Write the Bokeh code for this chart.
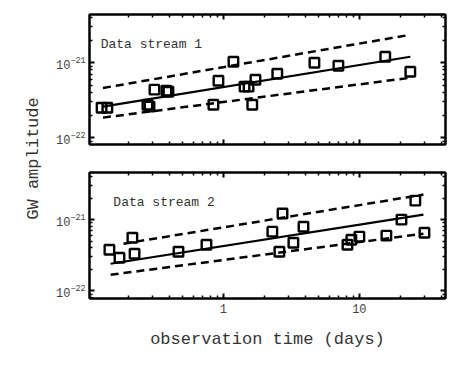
import math
from bokeh.plotting import figure
from bokeh.models import (LogAxis, Label, FixedTicker, BasicTickFormatter,
                          LogTickFormatter, CustomJSTickFormatter)
from bokeh.layouts import row, column
from bokeh.embed import file_html
from bokeh.resources import INLINE

# ---------------- data ----------------
s1_time = [0.127, 0.140, 0.276, 0.286, 0.311, 0.381, 0.394, 0.844, 0.919, 1.185,
           1.43, 1.53, 1.63, 1.72, 2.49, 4.67, 7.01, 15.5, 23.7]
s1_amp = [2.51e-22, 2.51e-22, 2.75e-22, 2.59e-22, 4.37e-22, 4.24e-22, 4.10e-22, 2.75e-22,
          5.75e-22, 1.03e-21, 4.79e-22, 4.79e-22, 2.75e-22, 5.93e-22, 7.13e-22, 1.0e-21,
          9.12e-22, 1.2e-21, 7.59e-22]
s1_fit_time = [0.13, 23.7]
s1_fit_mid = [2.6e-22, 1.2e-21]
s1_fit_hi = [4.6e-22, 2.36e-21]
s1_fit_lo = [1.85e-22, 6.3e-22]

s2_time = [0.145, 0.172, 0.214, 0.222, 0.467, 0.75, 2.29, 2.58, 2.72, 3.27, 3.88,
           8.17, 8.73, 10.0, 15.8, 20.4, 25.8, 30.1]
s2_amp = [3.78e-22, 2.92e-22, 5.57e-22, 3.32e-22, 3.54e-22, 4.45e-22, 6.78e-22, 3.54e-22,
          1.22e-21, 4.74e-22, 7.96e-22, 4.45e-22, 5.22e-22, 5.77e-22, 5.96e-22, 1.0e-21,
          1.85e-21, 6.56e-22]
s2_fit_time = [0.148, 29.6]
s2_fit_mid = [2.4e-22, 1.18e-21]
s2_hi_time = [0.184, 29.6]
s2_fit_hi = [4.59e-22, 2.25e-21]
s2_fit_lo = [1.68e-22, 6.35e-22]

x_major = [1, 10]
x_labels = {1: "1", 10: "10"}
y_major = [1e-22, 1e-21]

FONT = "Liberation Mono"
XR = (0.1035, 43.0)


def minor_ticks(lo_exp, hi_exp):
    out = []
    for e in range(lo_exp, hi_exp + 1):
        for m in range(2, 10):
            out.append(m * 10.0 ** e)
    return out


def style_axis(ax, show_labels, standoff=4):
    ax.axis_line_width = 2
    ax.axis_line_color = "black"
    ax.major_tick_in = 5
    ax.major_tick_out = 0
    ax.minor_tick_in = 3
    ax.minor_tick_out = 0
    ax.major_tick_line_width = 2
    ax.minor_tick_line_width = 1.5
    ax.major_tick_line_color = "black"
    ax.minor_tick_line_color = "black"
    ax.major_label_text_font = FONT
    ax.major_label_text_color = "#444444"
    ax.major_label_text_font_size = "12px"
    ax.major_label_standoff = standoff if show_labels else 0
    if not show_labels:
        ax.formatter = CustomJSTickFormatter(code="return ''")
        ax.major_label_overrides = {}
    ax.axis_label_text_font = FONT
    ax.axis_label_text_font_style = "normal"
    ax.axis_label_text_color = "#333333"


def panel(xs, ys, fx_mid, mid, fx_hi, hi, fx_lo, lo, yr, fh, text, tx, top_b, bot_b, bottom_labels):
    p = figure(x_axis_type="log", y_axis_type="log", x_range=XR, y_range=yr,
               frame_width=356, frame_height=fh, output_backend="svg",
               toolbar_location=None, min_border_left=41, min_border_right=5,
               min_border_top=top_b, min_border_bottom=bot_b)
    p.xgrid.visible = False
    p.ygrid.visible = False
    p.outline_line_color = "black"
    p.outline_line_width = 2
    p.background_fill_color = "white"

    xt = FixedTicker(ticks=x_major, minor_ticks=minor_ticks(-1, 1))
    yt = FixedTicker(ticks=y_major, minor_ticks=minor_ticks(-23, -21))

    bx = p.below[0]
    bx.ticker = xt
    bx.formatter = BasicTickFormatter()
    bx.major_label_overrides = x_labels
    style_axis(bx, bottom_labels, 5)
    ly = p.left[0]
    ly.ticker = yt
    ly.formatter = LogTickFormatter()
    style_axis(ly, True, 4)

    top = LogAxis(ticker=xt)
    style_axis(top, False)
    p.add_layout(top, "above")
    right = LogAxis(ticker=yt)
    style_axis(right, False)
    p.add_layout(right, "right")

    p.line(fx_mid, mid, line_color="black", line_width=2.2)
    p.line(fx_hi, hi, line_color="black", line_width=2.5, line_dash="8 5")
    p.line(fx_lo, lo, line_color="black", line_width=2.5, line_dash="8 5")
    p.scatter(xs, ys, marker="square", size=9.5, fill_alpha=0,
              line_color="black", line_width=2.4)

    p.add_layout(Label(x=tx, y=1.74e-21, text=text,
                       text_font=FONT, text_font_size="13px",
                       text_baseline="middle", text_color="#333333"))
    return p


p1 = panel(s1_time, s1_amp, s1_fit_time, s1_fit_mid, s1_fit_time, s1_fit_hi,
           s1_fit_time, s1_fit_lo, (8.1e-23, 4.4e-21), 130, "Data stream 1", 0.125,
           14, 14, False)
p2 = panel(s2_time, s2_amp, s2_fit_time, s2_fit_mid, s2_hi_time, s2_fit_hi,
           s2_fit_time, s2_fit_lo, (7.8e-23, 4.6e-21), 126, "Data stream 2", 0.155,
           14, 60, True)
p2.below[0].axis_label = "observation time (days)"
p2.below[0].axis_label_text_font_size = "17px"
p2.below[0].axis_label_standoff = 14

H = 158 + 200
lab = figure(width=48, height=H, x_range=(0, 48), y_range=(0, H),
             output_backend="svg", toolbar_location=None,
             x_axis_location=None, y_axis_location=None, min_border=0)
lab.xgrid.visible = False
lab.ygrid.visible = False
lab.outline_line_color = None
lab.add_layout(Label(x=33, y=H - 158, text="GW amplitude", angle=math.pi / 2,
                     text_align="center", text_baseline="middle",
                     text_font=FONT, text_font_size="17px", text_color="#333333"))

layout = row(lab, column(p1, p2))
open("out.html", "w").write(file_html(layout, INLINE))
